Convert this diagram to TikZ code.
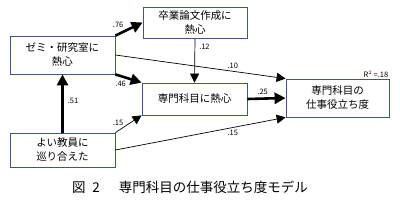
\documentclass[tikz,border=0pt]{standalone}
\usepackage{fontspec}
\setmainfont{Noto Sans CJK JP}
\usetikzlibrary{arrows.meta}
\definecolor{boxline}{RGB}{62,86,130}
\begin{document}
\begin{tikzpicture}[x=1pt,y=-1pt,
    box/.style={draw=boxline,line width=0.8pt,fill=white,inner sep=0pt,align=center,font=\fontsize{10.5}{14}\selectfont},
    thin/.style={line width=0.7pt,-{Triangle[length=9pt,width=9pt]}},
    bold/.style={line width=2.6pt,-{Triangle[length=11pt,width=11pt]}},
    coef/.style={font=\fontsize{7.5}{8}\selectfont,inner sep=1pt}]
  \useasboundingbox (0,0) rectangle (400,214);
  \node[box,minimum width=105pt,minimum height=38pt] (zemi) at (62.5,55) {ゼミ・研究室に\\熱心};
  \node[box,minimum width=104pt,minimum height=31pt] (sotsu) at (195,22.5) {卒業論文作成に\\熱心};
  \node[box,minimum width=105pt,minimum height=32pt] (senmon) at (194.5,99) {専門科目に熱心};
  \node[box,minimum width=103pt,minimum height=38pt] (yaku) at (337.5,98) {専門科目の\\仕事役立ち度};
  \node[box,minimum width=105pt,minimum height=34pt] (kyoin) at (62.5,150) {よい教員に\\巡り合えた};
  \draw[bold] (zemi.north east) -- (sotsu.west) node[coef,pos=0.1,above=4pt] {.76};
  \draw[thin] (zemi.east) -- (yaku.north west) node[coef,pos=0.69,above=1pt] {.10};
  \draw[bold] (zemi.south east) -- (senmon.north west) node[coef,pos=0.2,below=3pt] {.46};
  \draw[thin] (sotsu.south) -- (senmon.north) node[coef,pos=0.2,right=3pt] {.12};
  \draw[bold] (senmon.east) -- (yaku.west) node[coef,pos=0.4,above=2pt] {.25};
  \draw[bold] (kyoin.north) -- (zemi.south) node[coef,pos=0.55,right=3pt] {.51};
  \draw[thin] (kyoin.north east) -- (senmon.south west) node[coef,pos=0.1,above=4pt] {.15};
  \draw[thin] (kyoin.east) -- (yaku.south west) node[coef,pos=0.69,below=1pt] {.15};
  \node[coef,anchor=south east] (r2) at (yaku.north east) {\textit{R}$^2$\,=.18};
  \node[font=\fontsize{13.5}{16}\selectfont] (caption) at (190,187) {図\hspace{0.5em}2\hspace{1.4em}専門科目の仕事役立ち度モデル};
\end{tikzpicture}
\end{document}
